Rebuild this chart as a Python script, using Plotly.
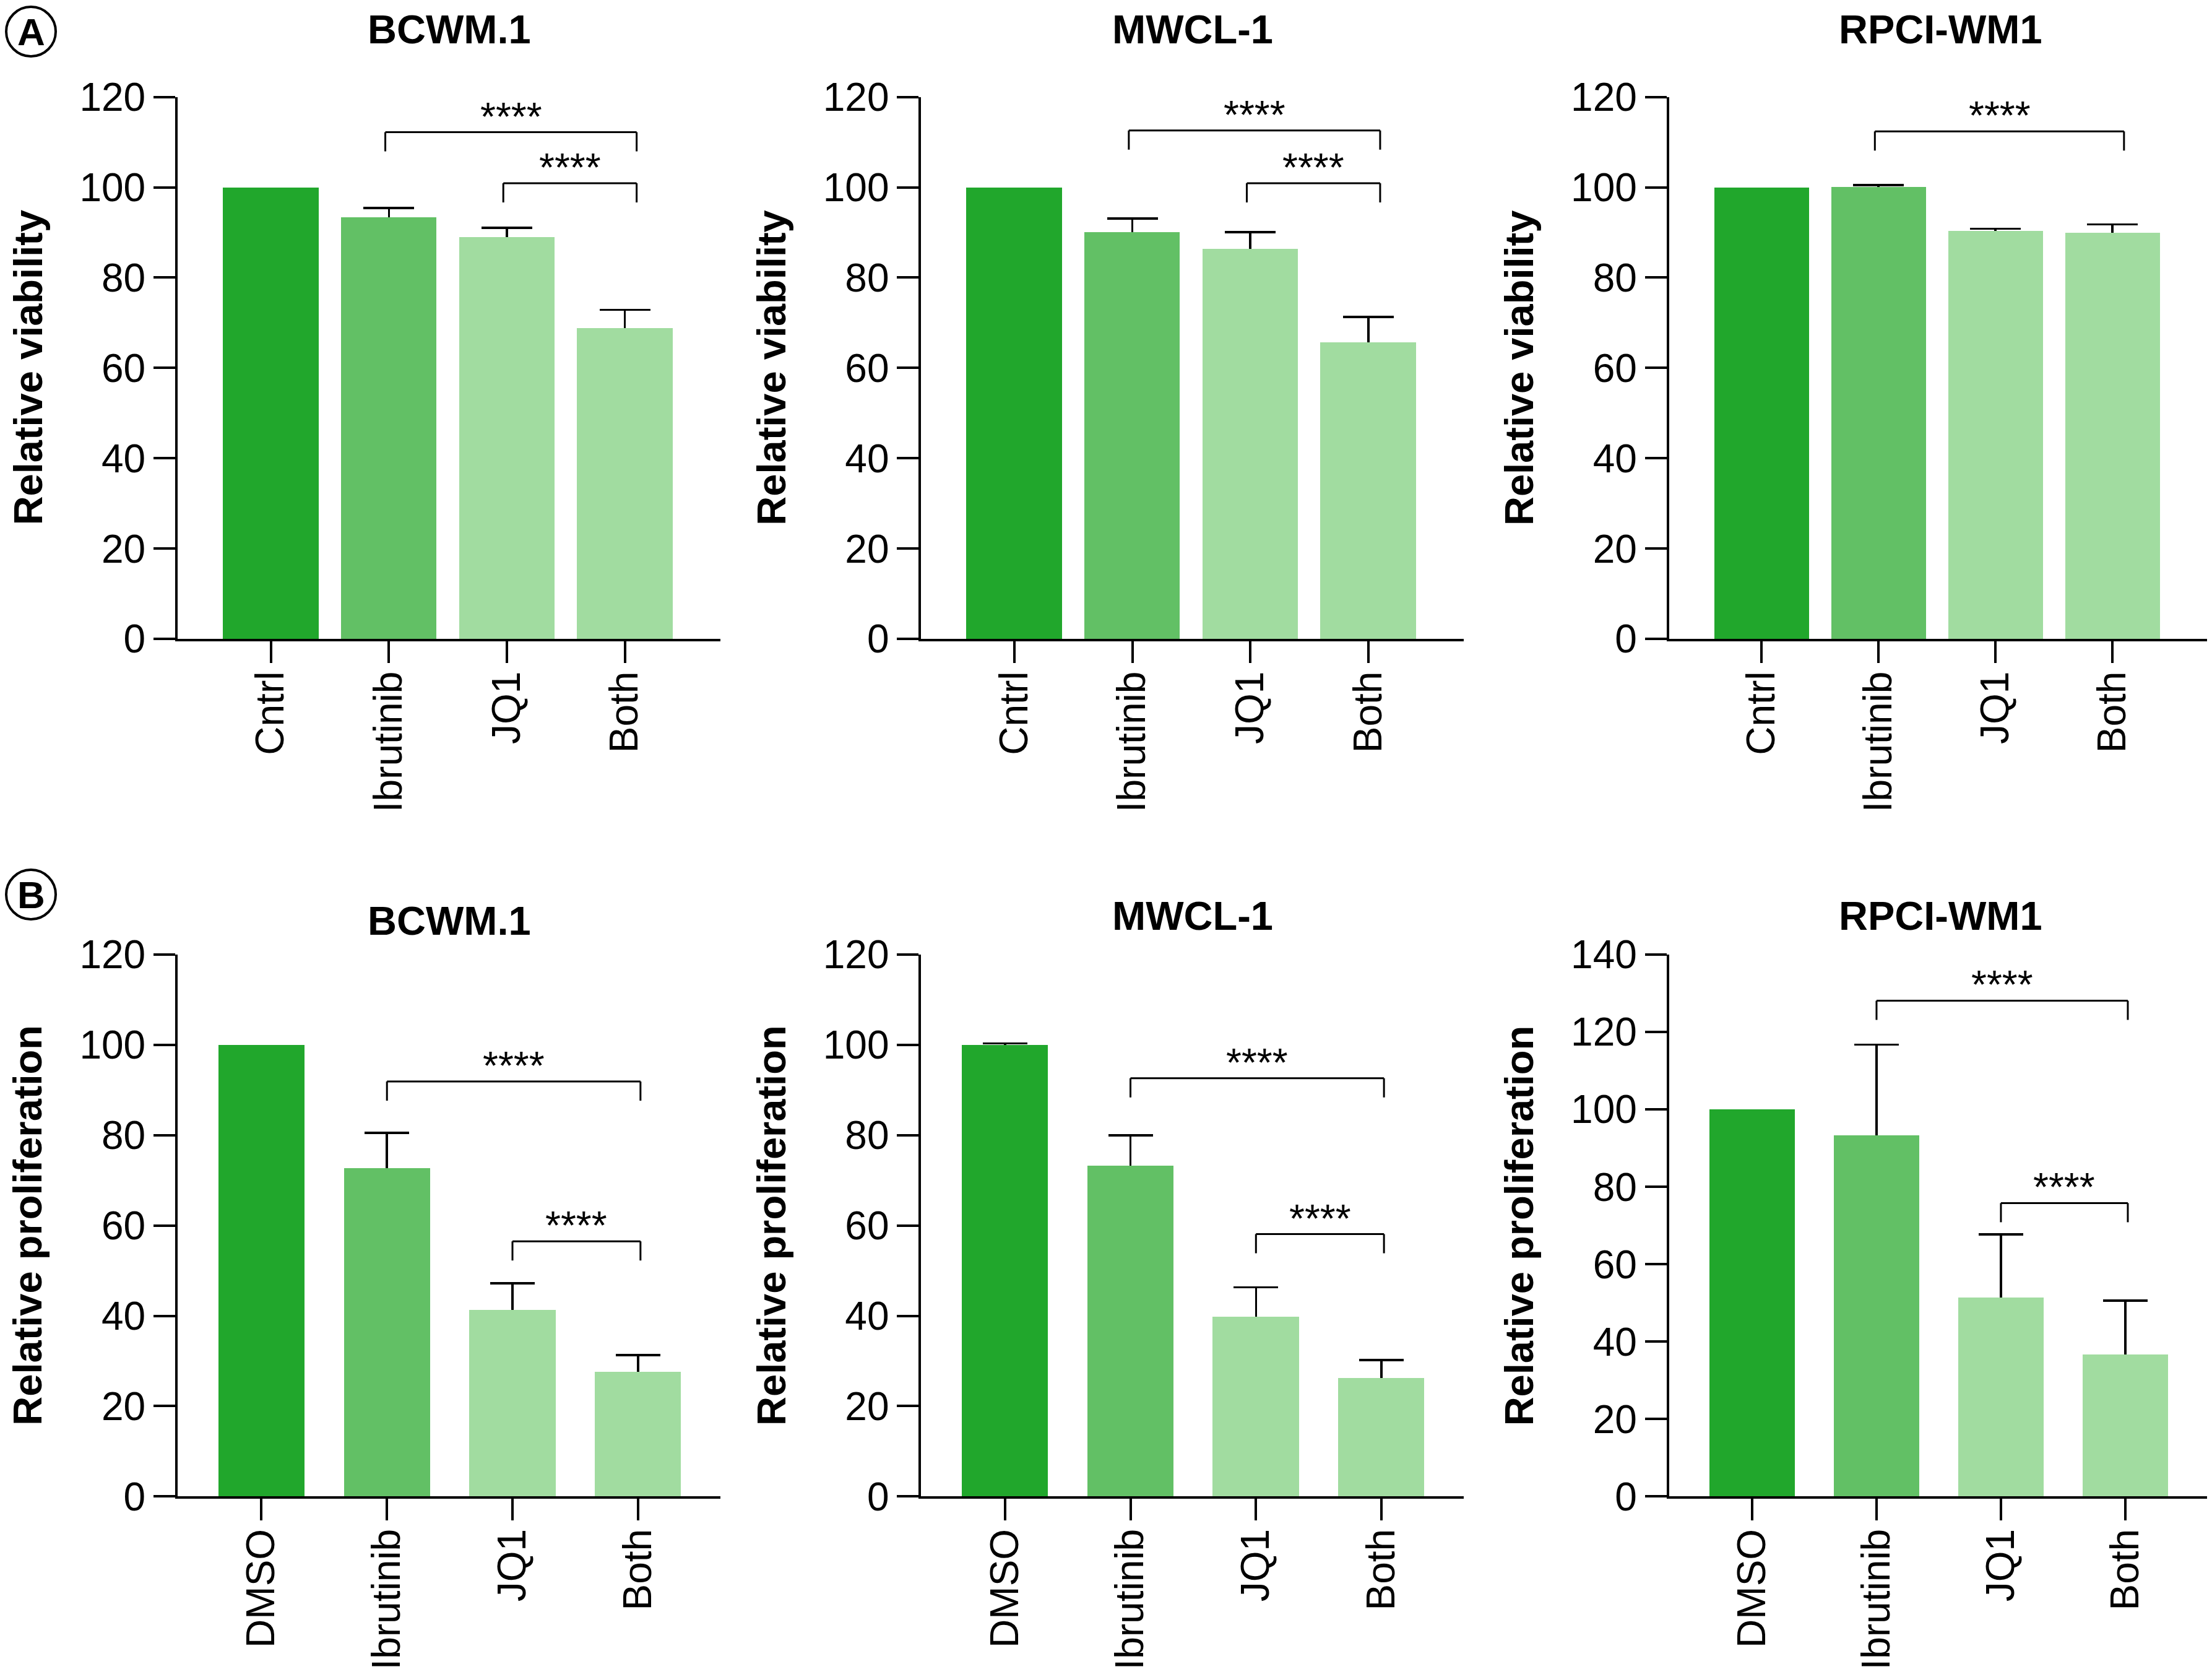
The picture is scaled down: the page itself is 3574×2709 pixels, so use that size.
import plotly.graph_objects as go

# ---- data ----
cell_lines = ['BCWM.1', 'MWCL-1', 'RPCI-WM1']
cats_viability = ['Cntrl', 'Ibrutinib', 'JQ1', 'Both']
cats_prolif = ['DMSO', 'Ibrutinib', 'JQ1', 'Both']

# (A) relative viability, mean and upper error (0 = no error bar)
viab_bcwm = [100, 93.4, 89.0, 68.8]
viab_bcwm_err = [0, 2.0, 2.0, 4.1]
viab_mwcl = [100, 90.1, 86.4, 65.7]
viab_mwcl_err = [0, 3.0, 3.7, 5.6]
viab_rpci = [100, 100.1, 90.4, 90.0]
viab_rpci_err = [0, 0.4, 0.4, 1.8]

# (B) relative proliferation
prol_bcwm = [100, 72.7, 41.3, 27.6]
prol_bcwm_err = [0, 7.8, 5.9, 3.7]
prol_mwcl = [100, 73.3, 39.8, 26.2]
prol_mwcl_err = [0.3, 6.7, 6.5, 4.0]
prol_rpci = [100, 93.3, 51.4, 36.6]
prol_rpci_err = [0, 23.4, 16.3, 14.0]

# significance brackets: (left group, right group, bracket height, label)
viab_bcwm_sig = [(1, 3, 112.2, '****'), (2, 3, 100.9, '****')]
viab_mwcl_sig = [(1, 3, 112.6, '****'), (2, 3, 100.9, '****')]
viab_rpci_sig = [(1, 3, 112.4, '****')]
prol_bcwm_sig = [(1, 3, 91.9, '****'), (2, 3, 56.5, '****')]
prol_mwcl_sig = [(1, 3, 92.6, '****'), (2, 3, 58.1, '****')]
prol_rpci_sig = [(1, 3, 128.1, '****'), (2, 3, 75.8, '****')]

y_max = [120, 120, 120, 120, 120, 140]

# ---- styling ----
# the page body has an 8px margin, so the figure is drawn 8px smaller/shifted
OFF = 8
W, H = 3574 - 2 * OFF, 2709 - 2 * OFF
FONT = 'Liberation Sans, Arial, Helvetica, sans-serif'
bar_colors = ['#21A72C', '#62C065', '#A1DCA0', '#A1DCA0']
axis_x_px = [287 - OFF, 1488.3 - OFF, 2696.7 - OFF]   # y-axis line positions
axis_w_px = 877                                        # x-axis length
row_y0_px = [1032 - OFF, 2417.3 - OFF]                 # y = 0 positions (from top)
plot_h_px = 875.3

rows = [
    dict(cats=cats_viability, label='Relative viability', bar_w=0.81,
         xrange=[-0.79, 3.81], cap=41, nudge=(-0.03, 0.1), title_y=[48, 48, 48],
         title_dx=-242,
         vals=[viab_bcwm, viab_mwcl, viab_rpci],
         errs=[viab_bcwm_err, viab_mwcl_err, viab_rpci_err],
         sigs=[viab_bcwm_sig, viab_mwcl_sig, viab_rpci_sig]),
    dict(cats=cats_prolif, label='Relative proliferation', bar_w=0.687,
         xrange=[-0.668, 3.657], cap=36, nudge=(0.0, 0.02), title_y=[1487, 1479, 1479],
         title_dx=-242,
         vals=[prol_bcwm, prol_mwcl, prol_rpci],
         errs=[prol_bcwm_err, prol_mwcl_err, prol_rpci_err],
         sigs=[prol_bcwm_sig, prol_mwcl_sig, prol_rpci_sig]),
]

fig = go.Figure()
shapes = []
annotations = []
layout_axes = {}

n = 0
for r, row in enumerate(rows):
    for c in range(3):
        n += 1
        xa = 'x' if n == 1 else 'x%d' % n
        ya = 'y' if n == 1 else 'y%d' % n
        cats = row['cats']
        vals = row['vals'][c]
        errs = row['errs'][c]
        ymax = y_max[n - 1]

        # error bars on a transparent bar trace, drawn underneath the real bars
        ex = [k for k, e in zip(cats, errs) if e]
        ey = [v for v, e in zip(vals, errs) if e]
        ee = [e for e in errs if e]
        fig.add_trace(go.Bar(
            x=ex, y=ey, xaxis=xa, yaxis=ya, width=row['bar_w'],
            marker=dict(color='rgba(0,0,0,0)', line_width=0),
            error_y=dict(type='data', array=ee, symmetric=True, color='black',
                         thickness=3.5, width=row['cap']),
            showlegend=False, hoverinfo='skip'))
        fig.add_trace(go.Bar(
            x=cats, y=vals, xaxis=xa, yaxis=ya, width=row['bar_w'],
            marker=dict(color=bar_colors, line_width=0),
            showlegend=False,
            hovertemplate='%{x}: %{y}<extra></extra>'))

        x0 = axis_x_px[c] / W
        x1 = min(1.0, (axis_x_px[c] + axis_w_px) / W)
        y0 = 1 - row_y0_px[r] / H
        y1 = 1 - (row_y0_px[r] - plot_h_px) / H

        common = dict(showline=True, linecolor='black', linewidth=4,
                      ticks='outside', ticklen=35, tickwidth=4, tickcolor='black',
                      showgrid=False, zeroline=False, automargin=False)
        layout_axes['xaxis' if n == 1 else 'xaxis%d' % n] = dict(
            common, domain=[x0, x1], anchor=ya, type='category',
            categoryorder='array', categoryarray=cats,
            range=row['xrange'], tickangle=-90, ticklabelstandoff=-12,
            tickfont=dict(family=FONT, size=64, color='black'))
        layout_axes['yaxis' if n == 1 else 'yaxis%d' % n] = dict(
            common, domain=[y0, y1], anchor=xa, range=[0, ymax],
            tick0=0, dtick=20,
            tickfont=dict(family=FONT, size=64, color='black'))

        # panel title
        annotations.append(dict(
            text='<b>%s</b>' % cell_lines[c], xref='paper', yref='paper',
            x=(axis_x_px[c] + axis_w_px / 2) / W, y=1 - (row['title_y'][c] - OFF) / H,
            xanchor='center', yanchor='middle', showarrow=False,
            font=dict(family=FONT, size=65, color='black')))
        # y axis title
        annotations.append(dict(
            text='<b>%s</b>' % row['label'], xref='paper', yref='paper',
            x=(axis_x_px[c] + row['title_dx']) / W, y=(y0 + y1) / 2,
            xanchor='center', yanchor='middle', textangle=-90, showarrow=False,
            font=dict(family=FONT, size=65, color='black')))

        # significance brackets
        leg = 31 * ymax / plot_h_px
        for a, b, h, lab in row['sigs'][c]:
            xl = a + row['nudge'][0]
            xr = b + row['nudge'][1]
            line = dict(color='black', width=3)
            shapes.append(dict(type='line', xref=xa, yref=ya, x0=xl, x1=xr,
                               y0=h, y1=h, line=line))
            shapes.append(dict(type='line', xref=xa, yref=ya, x0=xl, x1=xl,
                               y0=h, y1=h - leg, line=line))
            shapes.append(dict(type='line', xref=xa, yref=ya, x0=xr, x1=xr,
                               y0=h, y1=h - leg, line=line))
            annotations.append(dict(
                text=lab, xref=xa, yref=ya, x=(xl + xr) / 2, y=h,
                xanchor='center', yanchor='bottom', yshift=-13, showarrow=False,
                font=dict(family=FONT, size=64, color='black')))

# circled panel letters (kept just inside the figure edge)
for letter, cx, cy in [('A', 50, 51), ('B', 50, 1445)]:
    rad = 40
    cx, cy = cx - OFF, cy - OFF
    shapes.append(dict(type='circle', xref='paper', yref='paper',
                       x0=(cx - rad) / W, x1=(cx + rad) / W,
                       y0=1 - (cy + rad) / H, y1=1 - (cy - rad) / H,
                       line=dict(color='black', width=4)))
    annotations.append(dict(
        text='<b>%s</b>' % letter, xref='paper', yref='paper',
        x=cx / W, y=1 - cy / H, xanchor='center', yanchor='middle',
        showarrow=False, font=dict(family=FONT, size=62, color='black')))

fig.update_layout(
    width=W, height=H,
    margin=dict(l=0, r=0, t=0, b=0),
    paper_bgcolor='white', plot_bgcolor='white',
    barmode='overlay', bargap=0,
    shapes=shapes, annotations=annotations,
    font=dict(family=FONT, color='black'),
    **layout_axes
)

fig.write_html("out.html")
